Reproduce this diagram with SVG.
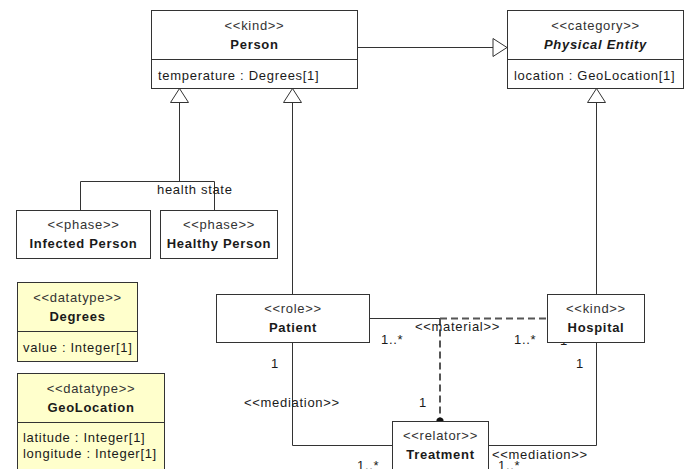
<svg xmlns="http://www.w3.org/2000/svg" width="694" height="469" viewBox="0 0 694 469">
  <style>
    text { font-family: "Liberation Sans", Arial, sans-serif; font-size: 13px; letter-spacing: 0.7px; fill: #1a1a1a; }
    .st { text-anchor: middle; fill: #333; }
    .nm { text-anchor: middle; font-weight: bold; }
    .it { font-style: italic; }
    .box { fill: #fff; stroke: #333; stroke-width: 1; }
    .dt { fill: #ffffcc; stroke: #333; stroke-width: 1; }
    .ln { fill: none; stroke: #333; stroke-width: 1; }
    .dash { fill: none; stroke: #555; stroke-width: 2; stroke-dasharray: 7 4; }
    .gen { fill: #fff; stroke: #333; stroke-width: 1; }
  </style>

  <!-- connectors -->
  <g id="connectors">
    <!-- generalization: phases to Person -->
    <polyline class="ln" points="80.5,210 80.5,181.5 214.5,181.5 214.5,210"/>
    <line class="ln" x1="179.5" y1="181.5" x2="179.5" y2="102"/>
    <polygon class="gen" points="179.5,88.5 170.5,102.5 188.5,102.5"/>
    <!-- generalization: Patient to Person -->
    <line class="ln" x1="292.5" y1="294" x2="292.5" y2="102"/>
    <polygon class="gen" points="292.5,88.5 283.5,102.5 301.5,102.5"/>
    <!-- generalization: Hospital to Physical Entity -->
    <line class="ln" x1="596.5" y1="294" x2="596.5" y2="102"/>
    <polygon class="gen" points="596.5,88.5 587.5,102.5 605.5,102.5"/>
    <!-- generalization: Person to Physical Entity -->
    <line class="ln" x1="357" y1="47.5" x2="493" y2="47.5"/>
    <polygon class="gen" points="507,47.5 493,38.5 493,56.5"/>
    <!-- material association Patient - Hospital -->
    <line class="ln" x1="369" y1="318.5" x2="440" y2="318.5"/>
    <line class="dash" x1="440" y1="318.5" x2="547" y2="318.5"/>
    <!-- derivation to Treatment -->
    <line class="dash" x1="440" y1="318.5" x2="440" y2="421"/>
    <circle cx="440" cy="421" r="3.6" fill="#111"/>
    <!-- mediations -->
    <polyline class="ln" points="292.5,342 292.5,445.5 392,445.5"/>
    <polyline class="ln" points="596.5,342 596.5,445.5 488,445.5"/>

    <!-- connector labels -->
    <text x="157" y="194">health state</text>
    <text x="457.5" y="331" style="text-anchor: middle">&lt;&lt;material&gt;&gt;</text>
    <text x="381" y="344">1..*</text>
    <text x="514" y="344">1..*</text>
    <text x="560" y="345">1</text>
    <text x="576" y="368">1</text>
    <text x="271" y="368">1</text>
    <text x="244" y="407">&lt;&lt;mediation&gt;&gt;</text>
    <text x="419" y="407">1</text>
    <text x="492" y="459">&lt;&lt;mediation&gt;&gt;</text>
    <text x="357" y="470">1..*</text>
    <text x="498" y="470">1..*</text>
  </g>

  <!-- Person -->
  <g id="person">
    <rect class="box" x="151.5" y="10.5" width="206" height="78"/>
    <line class="ln" x1="151.5" y1="59.5" x2="357.5" y2="59.5"/>
    <text class="st" x="254.5" y="29.5">&lt;&lt;kind&gt;&gt;</text>
    <text class="nm" x="254.5" y="48.5">Person</text>
    <text x="158" y="79.5">temperature : Degrees[1]</text>
  </g>

  <!-- Physical Entity -->
  <g id="physical-entity">
    <rect class="box" x="507.5" y="10.5" width="176" height="78"/>
    <line class="ln" x1="507.5" y1="59.5" x2="683.5" y2="59.5"/>
    <text class="st" x="595.5" y="29.5">&lt;&lt;category&gt;&gt;</text>
    <text class="nm it" x="595.5" y="48.5">Physical Entity</text>
    <text x="514" y="79.5">location : GeoLocation[1]</text>
  </g>

  <!-- Infected Person -->
  <g id="infected-person">
    <rect class="box" x="16.5" y="210.5" width="134" height="48"/>
    <text class="st" x="83.5" y="229">&lt;&lt;phase&gt;&gt;</text>
    <text class="nm" x="83.5" y="248">Infected Person</text>
  </g>

  <!-- Healthy Person -->
  <g id="healthy-person">
    <rect class="box" x="160.5" y="210.5" width="117" height="48"/>
    <text class="st" x="219" y="229">&lt;&lt;phase&gt;&gt;</text>
    <text class="nm" x="219" y="248">Healthy Person</text>
  </g>

  <!-- Degrees -->
  <g id="degrees">
    <rect class="dt" x="17.5" y="282.5" width="120" height="79"/>
    <line class="ln" x1="17.5" y1="331.5" x2="137.5" y2="331.5"/>
    <text class="st" x="77.5" y="301.5">&lt;&lt;datatype&gt;&gt;</text>
    <text class="nm" x="77.5" y="320.5">Degrees</text>
    <text x="23" y="352">value : Integer[1]</text>
  </g>

  <!-- GeoLocation -->
  <g id="geolocation">
    <rect class="dt" x="17.5" y="373.5" width="147" height="110"/>
    <line class="ln" x1="17.5" y1="422.5" x2="164.5" y2="422.5"/>
    <text class="st" x="91" y="392.5">&lt;&lt;datatype&gt;&gt;</text>
    <text class="nm" x="91" y="411.5">GeoLocation</text>
    <text x="23" y="442">latitude : Integer[1]</text>
    <text x="23" y="458">longitude : Integer[1]</text>
  </g>

  <!-- Patient -->
  <g id="patient">
    <rect class="box" x="216.5" y="294.5" width="153" height="48"/>
    <text class="st" x="293" y="313">&lt;&lt;role&gt;&gt;</text>
    <text class="nm" x="293" y="332">Patient</text>
  </g>

  <!-- Hospital -->
  <g id="hospital">
    <rect class="box" x="547.5" y="294.5" width="97" height="48"/>
    <text class="st" x="596" y="313">&lt;&lt;kind&gt;&gt;</text>
    <text class="nm" x="596" y="332">Hospital</text>
  </g>

  <!-- Treatment -->
  <g id="treatment">
    <rect class="box" x="392.5" y="421.5" width="96" height="60"/>
    <text class="st" x="440.5" y="440">&lt;&lt;relator&gt;&gt;</text>
    <text class="nm" x="440.5" y="459">Treatment</text>
  </g>
</svg>
